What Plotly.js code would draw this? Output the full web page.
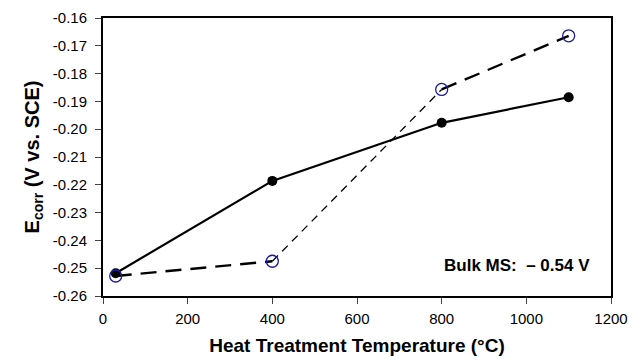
<!DOCTYPE html>
<html><head><meta charset="utf-8">
<script src="https://cdn.plot.ly/plotly-3.0.1.min.js"></script>
<style>html,body{margin:0;padding:0;background:#fff}#c{width:632px;height:361px}</style>
</head><body><div id="c"></div>
<script>
var temps = [30, 400, 800, 1100];
var solidSeries = [-0.2518, -0.2186, -0.1977, -0.1885];
var openSeries = [-0.2528, -0.2475, -0.1857, -0.1664];
var yTickVals = [-0.26, -0.25, -0.24, -0.23, -0.22, -0.21, -0.20, -0.19, -0.18, -0.17, -0.16];
var yTickText = ['-0.26', '-0.25', '-0.24', '-0.23', '-0.22', '-0.21', '-0.20', '-0.19', '-0.18', '-0.17', '-0.16'];
var xTickVals = [0, 200, 400, 600, 800, 1000, 1200];
var annText = 'Bulk MS:  \u2013 0.54 V';

var traces = [
  {x: temps.slice(0,2), y: openSeries.slice(0,2), mode: 'lines', line: {color: '#000', width: 2.4, dash: '16px,9px'}, hoverinfo: 'skip'},
  {x: temps.slice(1,3), y: openSeries.slice(1,3), mode: 'lines', line: {color: '#000', width: 1.3, dash: '8px,6px'}, hoverinfo: 'skip'},
  {x: temps.slice(2,4), y: openSeries.slice(2,4), mode: 'lines', line: {color: '#000', width: 2.4, dash: '16px,9px'}, hoverinfo: 'skip'},
  {x: temps, y: solidSeries, mode: 'lines+markers', line: {color: '#000', width: 2.2}, marker: {color: '#000', size: 10}},
  {x: temps, y: openSeries, mode: 'markers', marker: {symbol: 'circle-open', color: '#1a1aa0', size: 12, line: {width: 1.3, color: '#1a1aa0'}}}
];

var layout = {
  width: 632, height: 361,
  margin: {l: 103, r: 21, t: 18, b: 65},
  showlegend: false,
  paper_bgcolor: '#fff', plot_bgcolor: '#fff',
  font: {family: 'Liberation Sans, Arial, sans-serif', color: '#000', size: 15},
  xaxis: {
    range: [0, 1200], tickvals: xTickVals, ticks: 'outside', ticklen: 6, tickwidth: 1,
    showgrid: false, zeroline: false, showline: true, linecolor: '#000', linewidth: 2, mirror: true,
    tickfont: {size: 15}, ticklabelstandoff: 2,
    title: {text: '<b>Heat Treatment Temperature (°C)</b>', font: {size: 19}, standoff: 13}
  },
  yaxis: {
    range: [-0.26, -0.16], tickvals: yTickVals, ticktext: yTickText, ticks: 'outside', ticklen: 6, tickwidth: 1,
    showgrid: false, zeroline: false, showline: true, linecolor: '#000', linewidth: 2, mirror: true,
    tickfont: {size: 15}, ticklabelstandoff: 5,
    title: {text: '<b>E<sub>corr</sub> (V vs. SCE)</b>', font: {size: 20}, standoff: 8}
  },
  annotations: [{x: 979, y: -0.2489, xref: 'x', yref: 'y', text: '<b>' + annText + '</b>', showarrow: false, font: {size: 17}}]
};
Plotly.newPlot('c', traces, layout, {displayModeBar: false, staticPlot: true});
</script></body></html>
